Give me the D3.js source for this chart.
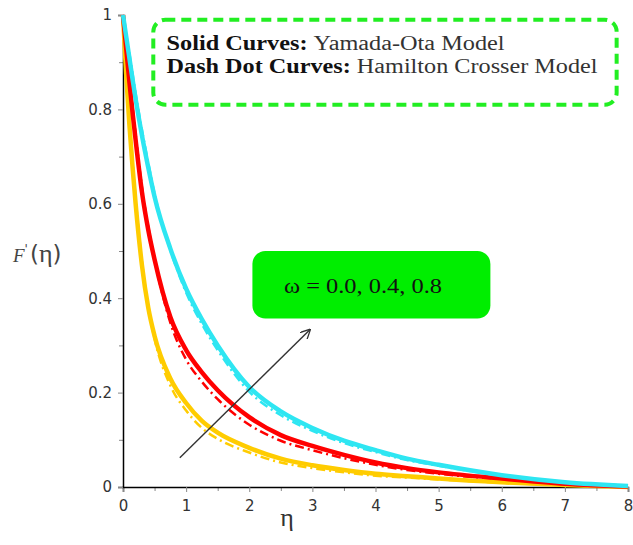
<!DOCTYPE html>
<html lang="en">
<head>
  <meta charset="UTF-8">
  <title>F'(eta) profiles</title>
  <script src="https://d3js.org/d3.v7.min.js"></script>
  <style>
    body { margin: 0; background: #fff; }
    .tick text { font-family: "DejaVu Sans", sans-serif; font-size: 15px; fill: #333; }
    .tick line { stroke: #888; }
  </style>
</head>
<body>
<svg id="chart"></svg>

<script>
  // eta grid and F'(eta) values
  var eta = [0, 0.05, 0.1, 0.15, 0.2, 0.3, 0.4, 0.5, 0.75, 1, 1.25, 1.5, 2, 2.5, 3, 3.5, 4, 4.5, 5, 6, 7, 8];

  // Yamada-Ota (solid)
  var yo08 = [1, 0.955, 0.91, 0.865, 0.822, 0.745, 0.677, 0.615, 0.505, 0.42, 0.355, 0.30, 0.212, 0.16, 0.125, 0.098, 0.078, 0.06, 0.047, 0.025, 0.01, 0.002];
  var yo04 = [1, 0.93, 0.86, 0.795, 0.735, 0.625, 0.545, 0.482, 0.36, 0.29, 0.243, 0.205, 0.148, 0.11, 0.087, 0.068, 0.052, 0.04, 0.031, 0.018, 0.007, 0.001];
  var yo00 = [1, 0.875, 0.77, 0.68, 0.6, 0.47, 0.38, 0.32, 0.23, 0.178, 0.14, 0.115, 0.083, 0.06, 0.046, 0.036, 0.028, 0.023, 0.018, 0.01, 0.004, 0];

  // Hamilton Crosser (dash dot)
  var hc08 = [1, 0.96, 0.92, 0.877, 0.834, 0.757, 0.687, 0.621, 0.502, 0.412, 0.345, 0.29, 0.202, 0.152, 0.119, 0.093, 0.074, 0.057, 0.045, 0.024, 0.01, 0.002];
  var hc04 = [1, 0.936, 0.87, 0.807, 0.747, 0.635, 0.551, 0.482, 0.348, 0.27, 0.223, 0.186, 0.132, 0.098, 0.078, 0.061, 0.047, 0.036, 0.028, 0.016, 0.006, 0.001];
  var hc00 = [1, 0.883, 0.782, 0.693, 0.612, 0.478, 0.382, 0.314, 0.215, 0.162, 0.125, 0.102, 0.073, 0.052, 0.04, 0.031, 0.024, 0.02, 0.016, 0.009, 0.004, 0];

  var xTicks = [0, 1, 2, 3, 4, 5, 6, 7, 8];
  var yTicks = [0, 0.2, 0.4, 0.6, 0.8, 1];

  var svgWidth = 633, svgHeight = 545;
  var margin = { top: 15, right: 5, bottom: 58, left: 123 };
  var width = svgWidth - margin.left - margin.right;
  var height = svgHeight - margin.top - margin.bottom;

  var svg = d3.select("#chart")
          .attr("width", svgWidth)
          .attr("height", svgHeight)
          .append("g")
          .attr("transform", "translate(" + margin.left + "," + margin.top + ")");

  var x = d3.scaleLinear().domain([0, 8]).range([0, width]);
  var y = d3.scaleLinear().domain([0, 1]).range([height, 0]);

  // minor ticks
  svg.append("g")
          .attr("transform", "translate(0," + height + ")")
          .call(d3.axisBottom(x).tickValues(d3.range(0.5, 8, 1)).tickSize(4).tickFormat(""))
          .call(function(g) { g.select(".domain").remove(); });
  svg.append("g")
          .call(d3.axisLeft(y).tickValues(d3.range(0.1, 1, 0.2)).tickSize(4).tickFormat(""))
          .call(function(g) { g.select(".domain").remove(); });

  // major axes
  var xAxis = svg.append("g")
          .attr("transform", "translate(0," + height + ")")
          .call(d3.axisBottom(x).tickValues(xTicks).tickSize(5).tickPadding(8).tickFormat(d3.format("d")));
  var yAxis = svg.append("g")
          .call(d3.axisLeft(y).tickValues(yTicks).tickSize(5).tickPadding(6)
                  .tickFormat(function(d) { return (d === 0 || d === 1) ? d : d.toFixed(1); }));
  xAxis.select(".domain").attr("stroke", "#000").attr("stroke-width", 1.5);
  yAxis.select(".domain").attr("stroke", "#000").attr("stroke-width", 1.5);

  var line = function(vals) {
    return d3.line()
            .x(function(d, i) { return x(eta[i]); })
            .y(function(d) { return y(d); })
            .curve(d3.curveMonotoneX)(vals);
  };

  var series = [
    { vals: hc00, color: "#ffcc00", dash: true },
    { vals: hc04, color: "#ff0000", dash: true },
    { vals: hc08, color: "#2ee6f2", dash: true },
    { vals: yo00, color: "#ffcc00", dash: false },
    { vals: yo04, color: "#ff0000", dash: false },
    { vals: yo08, color: "#2ee6f2", dash: false }
  ];

  svg.selectAll(".curve")
          .data(series)
          .enter().append("path")
          .attr("class", "curve")
          .attr("d", function(d) { return line(d.vals); })
          .attr("fill", "none")
          .attr("stroke", function(d) { return d.color; })
          .attr("stroke-width", function(d) { return d.dash ? 2.5 : 4.5; })
          .attr("stroke-dasharray", function(d) { return d.dash ? "9,4,2,4" : null; });

  // axis titles
  var root = d3.select("#chart");
  root.append("text")
          .attr("x", margin.left + x(2.6))
          .attr("y", 526)
          .attr("text-anchor", "middle")
          .attr("font-family", "Liberation Serif, serif")
          .attr("font-size", 26)
          .attr("fill", "#333")
          .text("η");

  var yl = root.append("text")
          .attr("x", 13)
          .attr("y", 262)
          .attr("font-size", 23)
          .attr("fill", "#444");
  yl.append("tspan").attr("font-family", "Liberation Serif, serif").attr("font-style", "italic").attr("font-size", 19).text("F");
  yl.append("tspan").attr("dy", -9).attr("font-size", 12).attr("font-family", "DejaVu Sans, sans-serif").text("'");
  yl.append("tspan").attr("dy", 9).attr("dx", 2).attr("font-family", "DejaVu Sans, sans-serif").text("(");
  yl.append("tspan").attr("font-family", "Liberation Serif, serif").attr("font-size", 26).text("η");
  yl.append("tspan").attr("font-family", "DejaVu Sans, sans-serif").text(")");

  // legend box
  svg.append("rect")
          .attr("x", x(0.48)).attr("y", y(0.99))
          .attr("width", x(7.82) - x(0.48)).attr("height", y(0.81) - y(0.99))
          .attr("rx", 12)
          .attr("fill", "none")
          .attr("stroke", "#22ee22")
          .attr("stroke-width", 4)
          .attr("stroke-dasharray", "10,6");

  var legendRows = [
    { bold: "Solid Curves: ", rest: "Yamada-Ota Model", w: 338 },
    { bold: "Dash Dot Curves: ", rest: "Hamilton Crosser Model", w: 431 }
  ];
  legendRows.forEach(function(r, i) {
    var t = svg.append("text")
            .attr("x", x(0.69))
            .attr("y", y(0.925) + i * 23)
            .attr("font-family", "Liberation Serif, serif")
            .attr("font-size", 20)
            .attr("fill", "#111")
            .attr("textLength", r.w)
            .attr("lengthAdjust", "spacingAndGlyphs");
    t.append("tspan").attr("font-weight", "bold").text(r.bold);
    t.append("tspan").attr("fill", "#333").text(r.rest);
  });

  // omega label and arrow
  svg.append("rect")
          .attr("x", x(2.05)).attr("y", y(0.5))
          .attr("width", x(5.82) - x(2.05)).attr("height", y(0.357) - y(0.5))
          .attr("rx", 13)
          .attr("fill", "#00ee00");
  svg.append("text")
          .attr("x", x(2.55))
          .attr("y", y(0.412))
          .attr("font-family", "Liberation Serif, serif")
          .attr("font-size", 22)
          .attr("fill", "#111")
          .attr("textLength", 158)
          .attr("lengthAdjust", "spacingAndGlyphs")
          .text("ω = 0.0, 0.4, 0.8");

  svg.append("defs").append("marker")
          .attr("id", "head")
          .attr("viewBox", "0 0 10 10")
          .attr("refX", 9).attr("refY", 5)
          .attr("markerWidth", 10).attr("markerHeight", 10)
          .attr("markerUnits", "userSpaceOnUse")
          .attr("orient", "auto")
          .append("path")
          .attr("d", "M0,0 L10,5 L0,10")
          .attr("fill", "none")
          .attr("stroke", "#333")
          .attr("stroke-width", 1.3);
  svg.append("line")
          .attr("x1", x(0.9)).attr("y1", y(0.062))
          .attr("x2", x(2.96)).attr("y2", y(0.333))
          .attr("stroke", "#333")
          .attr("stroke-width", 1.4)
          .attr("marker-end", "url(#head)");
</script>
</body>
</html>
